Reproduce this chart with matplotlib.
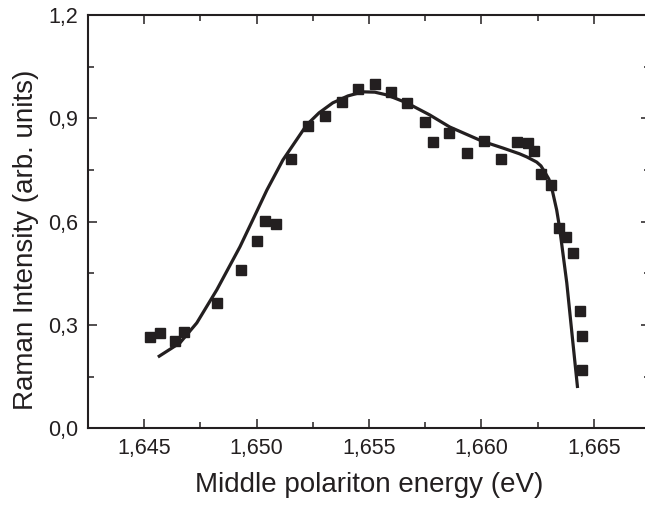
import matplotlib
matplotlib.use("Agg")
from matplotlib import pyplot as plt
from matplotlib.ticker import MultipleLocator, FuncFormatter

# measured points
energy = [1.64528, 1.64570, 1.64637, 1.64678, 1.64825, 1.64929, 1.65001, 1.65037,
          1.65086, 1.65152, 1.65229, 1.65305, 1.65379, 1.65452, 1.65529, 1.65600,
          1.65668, 1.65748, 1.65786, 1.65856, 1.65936, 1.66010, 1.66087, 1.66159,
          1.66207, 1.66234, 1.66267, 1.66308, 1.66347, 1.66378, 1.66406, 1.66439,
          1.66447, 1.66446]
intensity = [0.264, 0.278, 0.254, 0.280, 0.364, 0.461, 0.544, 0.602,
             0.594, 0.781, 0.878, 0.908, 0.946, 0.985, 0.999, 0.976,
             0.944, 0.888, 0.831, 0.858, 0.799, 0.834, 0.781, 0.832,
             0.829, 0.805, 0.739, 0.706, 0.582, 0.556, 0.509, 0.341,
             0.268, 0.169]

# theory curve
fit_x = [1.64561, 1.64659, 1.64734, 1.64823, 1.64926, 1.64983, 1.65046, 1.65117,
         1.65223, 1.65278, 1.65339, 1.65406, 1.65472, 1.65526, 1.65579, 1.65668,
         1.65770, 1.65859, 1.66006, 1.66095, 1.66170, 1.66202, 1.66246, 1.66265,
         1.66282, 1.66300, 1.66313, 1.66335, 1.66348, 1.66380, 1.66406, 1.66428]
fit_y = [0.207, 0.248, 0.306, 0.402, 0.527, 0.605, 0.692, 0.779,
         0.881, 0.916, 0.945, 0.965, 0.977, 0.976, 0.968, 0.945,
         0.910, 0.875, 0.833, 0.814, 0.797, 0.788, 0.773, 0.762,
         0.744, 0.724, 0.698, 0.634, 0.582, 0.422, 0.256, 0.117]

plt.rcParams['font.family'] = ['Liberation Sans', 'DejaVu Sans']

fig = plt.figure(figsize=(6.45, 5.09), dpi=100)
ax = fig.add_axes([0.1364, 0.1585, 0.8713, 0.812])

ink = '#231f20'
ax.plot(fit_x, fit_y, color=ink, lw=2.3, solid_capstyle='butt', solid_joinstyle='round', zorder=2)
ax.plot(energy, intensity, ls='none', marker='s', ms=7, color=ink, mec=ink, zorder=3)

ax.set_xlim(1.6425, 1.6675)
ax.set_ylim(0.0, 1.2)
ax.xaxis.set_major_locator(MultipleLocator(0.005))
ax.xaxis.set_minor_locator(MultipleLocator(0.0025))
ax.yaxis.set_major_locator(MultipleLocator(0.3))
ax.yaxis.set_minor_locator(MultipleLocator(0.15))
ax.xaxis.set_major_formatter(FuncFormatter(lambda v, p: f'{v:.3f}'.replace('.', ',')))
ax.yaxis.set_major_formatter(FuncFormatter(lambda v, p: f'{v:.1f}'.replace('.', ',')))

ax.tick_params(which='both', direction='in', top=True, right=True, width=1.1, color=ink,
               labelsize=15.5, labelcolor=ink)
ax.tick_params(which='major', length=6.5, pad=7)
ax.tick_params(which='minor', length=4)
for s in ax.spines.values():
    s.set_linewidth(1.5)
    s.set_color(ink)

ax.set_xlabel('Middle polariton energy (eV)', fontsize=20, color=ink)
ax.set_ylabel('Raman Intensity (arb. units)', fontsize=20, color=ink)
ax.xaxis.set_label_coords(0.5, -0.106)
ax.yaxis.set_label_coords(-0.087, 0.455)

fig.savefig('out.png', dpi=100)
